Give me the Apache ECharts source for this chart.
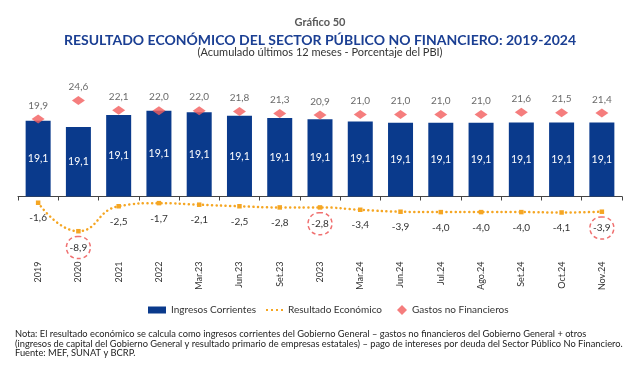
<!DOCTYPE html>
<html><head><meta charset="utf-8">
<script src="https://cdn.jsdelivr.net/npm/echarts@6/dist/echarts.min.js"></script>
<style>html,body{margin:0;padding:0;background:#fff}#c{width:640px;height:367px}</style>
</head><body><div id="c"></div>
<script>
const categories = ['2019','2020','2021','2022','Mar.23','Jun.23','Set.23','2023','Mar.24','Jun.24','Jul.24','Ago.24','Set.24','Oct.24','Nov.24'];
const ingresos = [19.4,17.8,20.9,22.0,21.6,20.7,20.1,19.8,19.2,18.9,18.9,18.9,19.0,19.0,19.0];
const ingresosLabels = ['19,1','19,1','19,1','19,1','19,1','19,1','19,1','19,1','19,1','19,1','19,1','19,1','19,1','19,1','19,1'];
const gastos = [19.9,24.6,22.1,22.0,22.0,21.8,21.3,20.9,21.0,21.0,21.0,21.0,21.6,21.5,21.4];
const resultado = [-1.6,-8.9,-2.5,-1.7,-2.1,-2.5,-2.8,-2.8,-3.4,-3.9,-4.0,-4.0,-4.0,-4.1,-3.9];
const circled = ['2020','2023','Nov.24'];

const FONT = 'Lato';
const fmt = v => v.toFixed(1).replace('.', ',');

const chart = echarts.init(document.getElementById('c'), null, {renderer:'canvas'});

const resData = resultado.map((v,i) => {
  if (circled.indexOf(categories[i]) >= 0) {
    return {value: v, label: {
      distance: 3, width: 24, height: 22, lineHeight: 22, align: 'center',
      borderColor: '#F07070', borderWidth: 1.5, borderType: [4,3], borderRadius: 13, padding: 0
    }};
  }
  return v;
});

const legendText = {fontSize: 10, color: '#333', fontFamily: FONT};
const option = {
  animation: false,
  textStyle: {fontFamily: FONT},
  grid: {left: 18, right: 18, top: 99, bottom: 131.5, containLabel: false},
  xAxis: {
    type: 'category', data: categories,
    axisLine: {onZero: true, lineStyle: {color: '#444', width: 1}},
    axisTick: {show: true, length: 4, lineStyle: {color: '#444'}},
    axisLabel: {rotate: 90, interval: 0, margin: 26, fontSize: 9, color: '#333', fontFamily: FONT}
  },
  yAxis: {type: 'value', min: -10, max: 25, show: false, splitLine: {show: false}},
  legend: [
    {data: [{name: 'Ingresos Corrientes', icon: 'rect'}], left: 148, top: 305, padding: 0, itemWidth: 18, itemHeight: 7,
     textStyle: legendText},
    {data: [{name: 'Resultado Económico', icon: 'path://M0,0h2v2h-2z M5,0h2v2h-2z M10,0h2v2h-2z M15,0h2v2h-2z'}],
     left: 266, top: 305, padding: 0, itemWidth: 17, itemHeight: 2.5, textStyle: legendText},
    {data: [{name: 'Gastos no Financieros', icon: 'diamond'}], left: 397, top: 305, padding: 0, itemWidth: 10, itemHeight: 10,
     textStyle: legendText}
  ],
  series: [
    {name: 'Ingresos Corrientes', type: 'bar', data: ingresos, barWidth: 25,
     itemStyle: {color: '#0A3A8C'},
     label: {show: true, position: 'inside', color: '#fff', fontSize: 10.5, fontFamily: FONT,
       formatter: p => ingresosLabels[p.dataIndex]}},
    {name: 'Resultado Económico', type: 'line', data: resData, smooth: 0.5,
     symbol: 'rect', symbolSize: 4.5, itemStyle: {color: '#F5A623'},
     lineStyle: {color: '#F5A623', width: 2.5, type: [0.1, 4.5], cap: 'round'},
     label: {show: true, position: 'bottom', distance: 8, color: '#333', fontSize: 10, fontFamily: FONT,
       formatter: p => fmt(p.value)}},
    {name: 'Gastos no Financieros', type: 'scatter', data: gastos, symbol: 'diamond', symbolSize: [13, 9],
     itemStyle: {color: '#F25C5C'}, z: 5,
     label: {show: true, position: 'top', distance: 4, color: '#444', fontSize: 10, fontFamily: FONT,
       formatter: p => fmt(p.value)}}
  ],
  graphic: [
    {type: 'text', left: 'center', top: 17, style: {text: 'Gráfico 50', font: 'bold 11px ' + FONT, fill: '#595959'}},
    {type: 'text', left: 'center', top: 33, style: {text: 'RESULTADO ECONÓMICO DEL SECTOR PÚBLICO NO FINANCIERO: 2019-2024', font: 'bold 14px ' + FONT, fill: '#1B3F93'}},
    {type: 'text', left: 'center', top: 47, style: {text: '(Acumulado últimos 12 meses - Porcentaje del PBI)', font: '11px ' + FONT, fill: '#333'}},
    {type: 'text', left: 15, top: 329.5, style: {text: 'Nota: El resultado económico se calcula como ingresos corrientes del Gobierno General – gastos no financieros del Gobierno General + otros', font: '9.3px ' + FONT, fill: '#222'}},
    {type: 'text', left: 15, top: 339.5, style: {text: '(ingresos de capital del Gobierno General y resultado primario de empresas estatales) – pago de intereses por deuda del Sector Público No Financiero.', font: '9.3px ' + FONT, fill: '#222'}},
    {type: 'text', left: 15, top: 348.5, style: {text: 'Fuente: MEF, SUNAT y BCRP.', font: '9.3px ' + FONT, fill: '#222'}}
  ]
};
chart.setOption(option);
</script></body></html>
